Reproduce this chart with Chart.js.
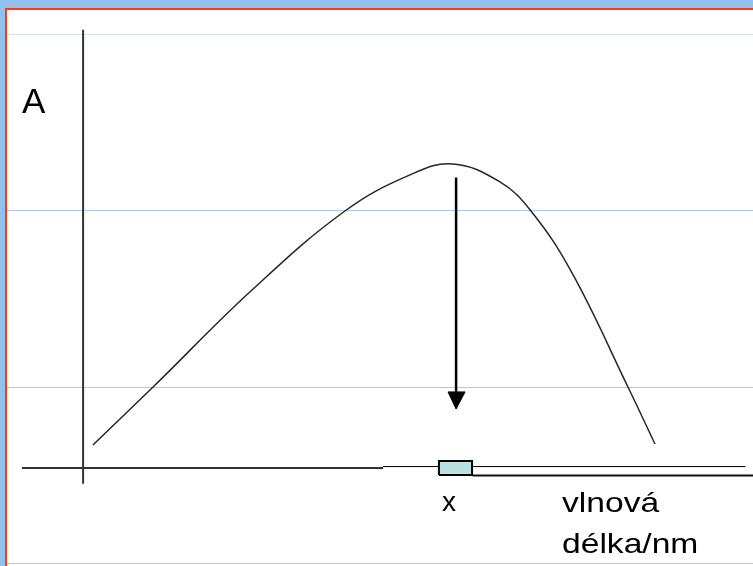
<!DOCTYPE html>
<html>
<head>
<meta charset="utf-8">
<script src="https://cdn.jsdelivr.net/npm/chart.js@4.4.1/dist/chart.umd.min.js"></script>
<style>
  html, body { margin: 0; padding: 0; background: #93c1ef; overflow: hidden; }
  #frame {
    position: absolute; left: 5px; top: 8px; width: 748px; height: 558px;
    background: #fff; box-sizing: border-box;
    border-top: 2px solid #ff3a10; border-left: 2px solid #ff3a10;
  }
  #myChart { position: absolute; left: 0; top: 0; }
</style>
</head>
<body>
<div id="frame"><canvas id="myChart" width="746" height="556"></canvas></div>
<script>
// absorption curve (wavelength in nm, absorbance)
var waveNm = [407.6, 447.9, 514.2, 576.5, 620.1, 648.9, 680.4, 701.2, 728.7, 766.2, 784.3];
var absorb = [0.670, 1.000, 1.551, 2.000, 2.205, 2.267, 2.165, 2.000, 1.648, 1.000, 0.676];

// hand drawn axes
var axisAX = [401, 401];
var axisAY = [0.45, 3.03];
var axisNmX = [360, 602];
var axisNmY = [0.54, 0.54];
var thinLineX = [602, 845];
var thinLineY = [0.548, 0.548];
var lowLineX = [662, 850];
var lowLineY = [0.497, 0.497];

// box marking x on the wavelength axis
var boxX = [639.5, 661.7, 661.7, 639.5, 639.5];
var boxY = [0.50, 0.50, 0.58, 0.58, 0.50];

// arrow from the maximum down to x
var arrowX = [651, 651];
var arrowY = [2.19, 0.97];
var headX = [645.6, 657, 651, 645.6];
var headY = [0.972, 0.972, 0.875, 0.972];

var yGrid = [0, 1, 2, 3];

// texts
var labelText = ['A', 'x', 'vlnová', 'délka/nm'];
var labelX = [360, 641.6, 722, 722];
var labelY = [2.557, 0.295, 0.29, 0.057];
var labelFont = [35, 28, 28, 28];
var labelStretch = [1, 1, 1.2, 1.2];

function pts(xs, ys) {
    return xs.map(function(x, i) { return {x: x, y: ys[i]}; });
}

function lineSet(xs, ys, color, width) {
    return {
        data: pts(xs, ys),
        borderColor: color,
        borderWidth: width,
        pointRadius: 0,
        fill: false,
        tension: 0
    };
}

var textPlugin = {
    id: 'textLabels',
    afterDatasetsDraw: function(chart) {
        var c = chart.ctx;
        var xs = chart.scales.x, ys = chart.scales.y;
        labelText.forEach(function(t, i) {
            c.save();
            c.translate(xs.getPixelForValue(labelX[i]), ys.getPixelForValue(labelY[i]));
            c.scale(labelStretch[i], 1);
            c.font = labelFont[i] + 'px "Liberation Sans", Arial, sans-serif';
            c.fillStyle = '#000';
            c.textBaseline = 'alphabetic';
            c.fillText(t, 0, 0);
            c.restore();
        });
    }
};

var boxSet = lineSet(boxX, boxY, '#000', 2);
boxSet.fill = 'shape';
boxSet.backgroundColor = '#b9e0e3';

var headSet = lineSet(headX, headY, '#000', 1);
headSet.fill = 'shape';
headSet.backgroundColor = '#000';

var curveSet = lineSet(waveNm, absorb, '#262626', 1.5);
curveSet.tension = 0.4;

var ctx = document.getElementById('myChart').getContext('2d');
var chart = new Chart(ctx, {
    type: 'line',
    data: {
        datasets: [
            boxSet,
            headSet,
            lineSet(arrowX, arrowY, '#000', 2.5),
            curveSet,
            lineSet(axisAX, axisAY, '#333', 2),
            lineSet(axisNmX, axisNmY, '#333', 2),
            lineSet(thinLineX, thinLineY, '#000', 1),
            lineSet(lowLineX, lowLineY, '#111', 2)
        ]
    },
    options: {
        responsive: false,
        animation: false,
        layout: { padding: 0 },
        plugins: {
            legend: { display: false },
            tooltip: { enabled: false }
        },
        scales: {
            x: {
                type: 'linear',
                display: false,
                min: 350,
                max: 850
            },
            y: {
                type: 'linear',
                min: -0.017,
                max: 3.142,
                afterBuildTicks: function(s) {
                    s.ticks = yGrid.map(function(v) { return {value: v}; });
                },
                ticks: { display: false },
                border: { display: false },
                grid: {
                    drawTicks: false,
                    lineWidth: 1,
                    color: function(c) {
                        return c.tick && c.tick.value === 3 ? '#d2e4f1' : '#a9c9ee';
                    }
                }
            }
        }
    },
    plugins: [textPlugin]
});
</script>
</body>
</html>
